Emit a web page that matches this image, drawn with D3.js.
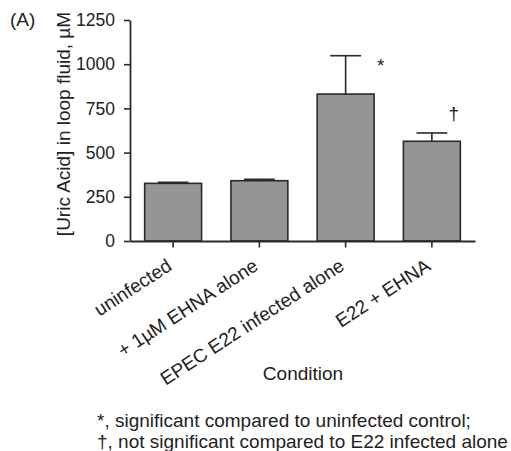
<!DOCTYPE html>
<html><head><meta charset="utf-8">
<script src="https://cdn.jsdelivr.net/npm/d3@7"></script>
<style>
body{margin:0;background:#fff;}
text{font-family:"Liberation Sans",Arial,sans-serif;fill:#222;}
</style></head>
<body><svg id="c" width="511" height="451"></svg>
<script>
const categories = ["uninfected", "+ 1\u00b5M EHNA alone", "EPEC E22 infected alone", "E22 + EHNA"];
const means = [326, 341, 831, 564];
const errors = [6, 8, 217, 47];
const marks = ["", "", "*", "\u2020"];
const markValues = [0, 0, 995, 724];
const yTicks = [0, 250, 500, 750, 1000, 1250];
const yLabel = "[Uric Acid] in loop fluid, \u00b5M";
const xLabel = "Condition";
const panel = "(A)";
const notes = ["*, significant compared to uninfected control;", "\u2020, not significant compared to E22 infected alone"];

const svg = d3.select("#c");
const ink = "#2a2a2a";
const x = d3.scaleBand().domain(categories).range([130, 475]).paddingInner(0.34).paddingOuter(0.17);
const y = d3.scaleLinear().domain([0, 1250]).range([241, 20]);

// bars
svg.selectAll("rect.bar").data(categories).enter().append("rect")
  .attr("x", d => x(d)).attr("width", x.bandwidth())
  .attr("y", (d, i) => y(means[i])).attr("height", (d, i) => y(0) - y(means[i]))
  .attr("fill", "#959595").attr("stroke", ink).attr("stroke-width", 1.6);

// error bars
const capW = x.bandwidth() * 0.54;
categories.forEach((c, i) => {
  const cx = x(c) + x.bandwidth() / 2;
  svg.append("line").attr("x1", cx).attr("x2", cx).attr("y1", y(means[i])).attr("y2", y(means[i] + errors[i]))
    .attr("stroke", ink).attr("stroke-width", 1.6);
  svg.append("line").attr("x1", cx - capW / 2).attr("x2", cx + capW / 2).attr("y1", y(means[i] + errors[i])).attr("y2", y(means[i] + errors[i]))
    .attr("stroke", ink).attr("stroke-width", 1.6);
});

// significance marks
const markDx = [0, 0, 35, 22];
categories.forEach((c, i) => {
  if (!marks[i]) return;
  svg.append("text").attr("x", x(c) + x.bandwidth() / 2 + markDx[i]).attr("y", y(markValues[i]))
    .attr("dy", "0.35em").attr("text-anchor", "middle").attr("font-size", 19).text(marks[i]);
});

// axes
const yAxis = svg.append("g").attr("transform", "translate(130,0)")
  .call(d3.axisLeft(y).tickValues(yTicks).tickFormat(d3.format("d")).tickSize(6).tickPadding(9).tickSizeOuter(0));
const xAxis = svg.append("g").attr("transform", "translate(0,241)")
  .call(d3.axisBottom(x).tickSize(6.5).tickSizeOuter(0).tickFormat(""));
[yAxis, xAxis].forEach(g => {
  g.select(".domain").attr("stroke", ink).attr("stroke-width", 1.8);
  g.selectAll(".tick line").attr("stroke", ink).attr("stroke-width", 1.6);
  g.selectAll(".tick text").attr("font-size", 17.5).attr("fill", "#222").attr("font-family", "Liberation Sans, Arial, sans-serif");
});

// rotated category labels
svg.selectAll("text.cat").data(categories).enter().append("text")
  .attr("class", "cat")
  .attr("transform", d => `translate(${x(d) + x.bandwidth() / 2},${269}) rotate(-33)`)
  .attr("text-anchor", "end").attr("font-size", 19).text(d => d);

// axis titles
svg.append("text").attr("transform", "translate(70,124) rotate(-90)")
  .attr("text-anchor", "middle").attr("font-size", 19).text(yLabel);
svg.append("text").attr("x", 303).attr("y", 380).attr("text-anchor", "middle").attr("font-size", 19).text(xLabel);
svg.append("text").attr("x", 10).attr("y", 26).attr("font-size", 19).text(panel);

// footnotes
svg.selectAll("text.note").data(notes).enter().append("text")
  .attr("x", 97).attr("y", (d, i) => 427 + i * 21).attr("font-size", 19).text(d => d);
</script></body></html>
